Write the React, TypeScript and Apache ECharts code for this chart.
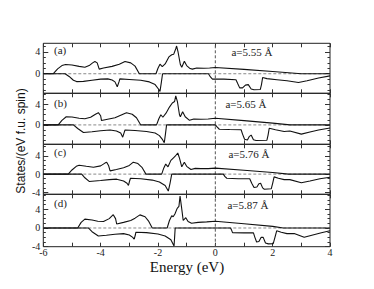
import React, { useEffect, useRef } from "react";
import * as echarts from "echarts";

// ---- data: [energy (eV), states/(eV f.u. spin)] ----
const upA: [number, number][] = [
  [-6, 0], [-5.65, 0], [-5.5, 0.9], [-5.35, 1.5], [-5.22, 1.7], [-5.0, 1.6], [-4.75, 1.35], [-4.55, 1.2],
  [-4.4, 1.5], [-4.28, 2.0], [-4.2, 2.25], [-4.12, 2.0], [-4.05, 0.85], [-3.9, 1.05], [-3.6, 1.35],
  [-3.35, 1.75], [-3.15, 2.25], [-2.95, 2.0], [-2.8, 1.4], [-2.65, 0], [-2.07, 0], [-2.0, 1.0],
  [-1.93, 1.75], [-1.85, 1.3], [-1.75, 1.8], [-1.62, 3.1], [-1.52, 3.5], [-1.45, 3.6], [-1.38, 4.6],
  [-1.35, 5.1], [-1.3, 4.0], [-1.22, 1.7], [-1.17, 1.2], [-1.08, 2.3], [-1.0, 1.5], [-0.88, 0.95],
  [-0.8, 0.85], [-0.65, 1.05], [-0.4, 1.0], [-0.2, 1.05], [0, 1.15], [1.0, 0.8], [2.0, 0.4], [3.0, 0], [4, 0],
];
const dnA: [number, number][] = [
  [-6, 0], [-5.24, 0], [-5.1, -0.5], [-4.95, -1.2], [-4.84, -1.45], [-4.6, -1.4], [-4.3, -1.2],
  [-4.0, -1.0], [-3.75, -0.95], [-3.6, -1.15], [-3.5, -1.5], [-3.42, -2.4], [-3.36, -1.5], [-3.33, -0.95],
  [-3.0, -1.05], [-2.6, -1.2], [-2.3, -1.5], [-2.1, -2.0], [-1.97, -2.9], [-1.93, -3.25], [-1.88, -1.5],
  [-1.84, 0], [-0.24, 0], [-0.17, -0.6], [-0.1, -1.0], [0.3, -1.0], [0.72, -1.1], [0.78, -1.8],
  [0.85, -2.6], [0.95, -2.6], [1.05, -2.1], [1.15, -2.0], [1.25, -2.8], [1.35, -2.95], [1.57, -2.9],
  [1.61, -2.0], [1.65, -0.7], [1.8, -0.9], [2.15, -1.1], [2.5, -1.3], [2.9, -1.6], [3.2, -1.3],
  [3.6, -0.8], [4, -0.4],
];
const upB: [number, number][] = [
  [-6, 0], [-5.48, 0], [-5.35, 0.9], [-5.2, 1.6], [-5.0, 1.55], [-4.75, 1.3], [-4.55, 1.2], [-4.35, 1.5],
  [-4.18, 2.1], [-4.08, 2.4], [-4.0, 1.8], [-3.97, 0.85], [-3.8, 1.05], [-3.5, 1.4], [-3.3, 1.9],
  [-3.1, 2.4], [-2.9, 2.1], [-2.75, 1.4], [-2.6, 0], [-2.05, 0], [-1.97, 1.2], [-1.9, 2.0], [-1.83, 1.5],
  [-1.72, 2.3], [-1.6, 3.5], [-1.5, 4.3], [-1.42, 4.6], [-1.38, 5.7], [-1.32, 4.5], [-1.25, 2.0],
  [-1.22, 1.6], [-1.14, 2.6], [-1.05, 1.6], [-0.9, 0.9], [-0.75, 1.15], [-0.5, 1.1], [-0.25, 1.15],
  [0, 1.3], [1.0, 0.85], [2.0, 0.35], [2.6, 0], [4, 0],
];
const dnB: [number, number][] = [
  [-6, 0], [-4.95, 0], [-4.8, -0.7], [-4.6, -1.5], [-4.3, -1.35], [-4.0, -1.15], [-3.67, -1.0],
  [-3.45, -1.2], [-3.3, -1.6], [-3.23, -2.4], [-3.18, -1.5], [-3.15, -1.0], [-2.8, -1.1], [-2.4, -1.3],
  [-2.1, -1.6], [-1.95, -2.1], [-1.84, -2.9], [-1.78, -3.5], [-1.74, -1.8], [-1.7, 0], [0, 0],
  [0.06, -0.4], [0.14, -0.85], [0.5, -0.9], [0.9, -0.95], [0.95, -1.8], [1.02, -2.8], [1.12, -2.95],
  [1.18, -2.3], [1.25, -2.0], [1.33, -2.9], [1.42, -3.05], [1.8, -3.0], [1.84, -2.0], [1.88, -0.65],
  [2.1, -0.95], [2.4, -1.3], [2.6, -1.2], [3.0, -1.8], [3.3, -1.4], [3.6, -1.0], [4, -0.6],
];
const upC: [number, number][] = [
  [-6, 0], [-5.13, 0], [-5.0, 0.9], [-4.85, 1.7], [-4.75, 1.95], [-4.5, 1.7], [-4.25, 1.5], [-4.0, 1.8],
  [-3.85, 2.4], [-3.79, 2.6], [-3.72, 1.8], [-3.67, 0.7], [-3.45, 1.0], [-3.2, 1.4], [-3.0, 1.9],
  [-2.86, 2.6], [-2.7, 2.3], [-2.55, 1.4], [-2.42, 0], [-1.87, 0], [-1.8, 1.3], [-1.73, 2.2],
  [-1.65, 1.6], [-1.55, 3.0], [-1.45, 3.6], [-1.4, 3.9], [-1.31, 4.6], [-1.25, 3.5], [-1.17, 1.6],
  [-1.08, 2.6], [-1.0, 1.7], [-0.85, 1.0], [-0.7, 1.25], [-0.5, 1.2], [-0.25, 1.2], [0, 1.3],
  [1.0, 0.85], [2.0, 0.35], [2.55, 0], [4, 0],
];
const dnC: [number, number][] = [
  [-6, 0], [-4.66, 0], [-4.55, -0.8], [-4.4, -1.6], [-4.0, -1.4], [-3.7, -1.2], [-3.44, -1.1],
  [-3.2, -1.5], [-3.08, -2.0], [-3.03, -2.45], [-2.99, -1.5], [-2.96, -0.9], [-2.6, -1.0], [-2.2, -1.3],
  [-1.95, -1.7], [-1.75, -2.5], [-1.64, -3.7], [-1.58, -2.0], [-1.52, 0], [0.28, 0], [0.33, -0.5],
  [0.4, -0.9], [0.8, -1.0], [1.2, -1.0], [1.27, -2.0], [1.35, -2.9], [1.45, -2.8], [1.52, -2.1],
  [1.58, -2.0], [1.65, -3.0], [1.71, -3.3], [1.95, -3.2], [2.0, -2.0], [2.05, -0.6], [2.2, -0.9],
  [2.4, -1.2], [2.6, -1.2], [3.0, -1.9], [3.3, -1.5], [3.65, -1.0], [4, -0.7],
];
const upD: [number, number][] = [
  [-6, 0], [-4.8, 0], [-4.68, 1.2], [-4.55, 1.9], [-4.3, 1.7], [-4.1, 1.45], [-3.9, 1.4], [-3.7, 2.0],
  [-3.56, 2.85], [-3.48, 2.0], [-3.44, 0.85], [-3.2, 1.2], [-2.95, 1.6], [-2.8, 2.1], [-2.63, 2.8],
  [-2.45, 2.4], [-2.32, 1.4], [-2.2, 0], [-1.68, 0], [-1.6, 1.6], [-1.52, 2.6], [-1.47, 2.4],
  [-1.41, 3.0], [-1.33, 4.2], [-1.27, 4.6], [-1.23, 6.8], [-1.18, 4.5], [-1.12, 1.6], [-1.03, 2.2],
  [-0.95, 1.4], [-0.83, 1.0], [-0.6, 1.2], [-0.3, 1.3], [0, 1.45], [1.0, 0.9], [2.0, 0.35], [2.37, 0],
  [4, 0],
];
const dnD: [number, number][] = [
  [-6, 0], [-4.43, 0], [-4.3, -0.8], [-4.08, -1.7], [-3.8, -1.55], [-3.5, -1.35], [-3.2, -1.2],
  [-3.0, -1.5], [-2.88, -2.0], [-2.83, -2.4], [-2.79, -1.5], [-2.77, -0.9], [-2.4, -1.0], [-2.0, -1.3],
  [-1.75, -1.7], [-1.55, -2.5], [-1.44, -3.85], [-1.42, -2.0], [-1.4, 0], [0.53, 0], [0.57, -0.5],
  [0.6, -1.0], [1.0, -1.05], [1.33, -1.05], [1.38, -2.0], [1.44, -3.0], [1.52, -2.9], [1.6, -2.0],
  [1.67, -2.0], [1.75, -3.2], [1.85, -3.4], [2.02, -3.35], [2.08, -2.0], [2.14, -0.6], [2.3, -0.9],
  [2.5, -1.2], [2.75, -1.2], [3.1, -2.0], [3.4, -1.5], [3.7, -1.0], [4, -0.6],
];

const tags = ["(a)", "(b)", "(c)", "(d)"];
const latticeLabels = ["a=5.55 Å", "a=5.65 Å", "a=5.76 Å", "a=5.87 Å"];
const xTickValues = [-6, -5, -4, -3, -2, -1, 0, 1, 2, 3, 4];
const xLabelValues = [-6, -4, -2, 0, 2, 4];
const yMajorValues = [-4, 0, 4];
const yMinorValues = [-4, -3, -2, -1, 0, 1, 2, 3, 4, 5, 6, 7];
const xTitle = "Energy (eV)";
const yTitle = "States/(eV f.u. spin)";

const ups = [upA, upB, upC, upD];
const dns = [dnA, dnB, dnC, dnD];

// layout
const X_MIN = -6;
const X_MAX = 4;
const yMins = [-3.6, -3.8, -4.4, -4.0];
const yMaxs = [5.6, 6.2, 6.5, 7.2];
const gridTops = [43.3, 93.3, 144.3, 194.3];
const gridHeights = [50, 51, 50, 52.4];
const GRID_LEFT = 43.3;
const GRID_WIDTH = 286.7;
const tagYs = [50, 103, 152, 203];
const latYs = [52, 104, 154, 205];
const latXs = [252, 246, 249, 248];

const SERIF = '"Liberation Serif", "Times New Roman", serif';
const SANS = '"Liberation Sans", Arial, sans-serif';

export default function App() {
  const ref = useRef<HTMLDivElement>(null);
  useEffect(() => {
    if (!ref.current) return;
    const chart = echarts.init(ref.current, undefined, { renderer: "svg" });
    const grid: any[] = [];
    const xAxis: any[] = [];
    const yAxis: any[] = [];
    const series: any[] = [];
    const graphic: any[] = [];
    const tickStyle = { color: "#333", width: 1 };

    for (let i = 0; i < 4; i++) {
      const yMin = yMins[i];
      const yMax = yMaxs[i];
      grid.push({
        left: GRID_LEFT,
        top: gridTops[i],
        width: GRID_WIDTH,
        height: gridHeights[i],
        show: true,
        borderColor: "#222",
        borderWidth: 1,
        backgroundColor: "transparent",
        containLabel: false,
      });
      const xBase = {
        type: "value",
        gridIndex: i,
        min: X_MIN,
        max: X_MAX,
        axisLine: { show: false, onZero: false },
        splitLine: { show: false },
      };
      xAxis.push({
        ...xBase,
        position: "bottom",
        axisTick: { show: true, inside: true, length: 4, customValues: xTickValues, lineStyle: tickStyle },
        axisLabel: {
          show: i === 3,
          customValues: xLabelValues,
          fontFamily: SERIF,
          fontSize: 10,
          color: "#222",
          margin: 1,
        },
      });
      xAxis.push({
        ...xBase,
        position: "top",
        axisTick: { show: true, inside: true, length: 4, customValues: xTickValues, lineStyle: tickStyle },
        axisLabel: { show: false },
      });
      const majors = yMajorValues.filter((v) => v >= yMin && v <= yMax);
      const minors = yMinorValues.filter((v) => v >= yMin && v <= yMax);
      const yBase = {
        type: "value",
        gridIndex: i,
        min: yMin,
        max: yMax,
        axisLine: { show: false, onZero: false },
        splitLine: { show: false },
      };
      for (const pos of ["left", "right"]) {
        yAxis.push({
          ...yBase,
          position: pos,
          axisTick: { show: true, inside: true, length: 5, customValues: majors, lineStyle: tickStyle },
          axisLabel: {
            show: pos === "left",
            customValues: majors,
            fontFamily: SERIF,
            fontSize: 10,
            color: "#222",
            margin: 3,
          },
        });
        yAxis.push({
          ...yBase,
          position: pos,
          axisTick: { show: true, inside: true, length: 2.5, customValues: minors, lineStyle: tickStyle },
          axisLabel: { show: false },
        });
      }
      const xi = i * 2;
      const yi = i * 4;
      series.push({
        type: "line",
        xAxisIndex: xi,
        yAxisIndex: yi,
        data: [[X_MIN, 0], [X_MAX, 0]],
        symbol: "none",
        silent: true,
        z: 1,
        lineStyle: { color: "#8a8a8a", width: 1, type: [3, 2] },
      });
      series.push({
        type: "line",
        xAxisIndex: xi,
        yAxisIndex: yi,
        data: [[0, yMin], [0, yMax]],
        symbol: "none",
        silent: true,
        z: 1,
        lineStyle: { color: "#555", width: 1, type: [3, 2] },
      });
      series.push({
        type: "line",
        xAxisIndex: xi,
        yAxisIndex: yi,
        data: ups[i],
        symbol: "none",
        z: 3,
        lineStyle: { color: "#111", width: 1.1 },
      });
      series.push({
        type: "line",
        xAxisIndex: xi,
        yAxisIndex: yi,
        data: dns[i],
        symbol: "none",
        z: 3,
        lineStyle: { color: "#111", width: 1.1 },
      });
      graphic.push({
        type: "text",
        x: 54,
        y: tagYs[i],
        style: {
          text: tags[i],
          font: `11px ${SERIF}`,
          fill: "#222",
          align: "left",
          textAlign: "left",
          verticalAlign: "middle",
          textVerticalAlign: "middle",
        },
      });
      graphic.push({
        type: "text",
        x: latXs[i],
        y: latYs[i],
        style: {
          text: latticeLabels[i],
          font: `11px ${SERIF}`,
          fill: "#222",
          align: "center",
          textAlign: "center",
          verticalAlign: "middle",
          textVerticalAlign: "middle",
        },
      });
    }
    graphic.push({
      type: "text",
      x: 187,
      y: 267,
      style: {
        text: xTitle,
        font: `15px ${SERIF}`,
        fill: "#111",
        align: "center",
        textAlign: "center",
        verticalAlign: "middle",
        textVerticalAlign: "middle",
      },
    });
    graphic.push({
      type: "text",
      x: 20.5,
      y: 141,
      rotation: Math.PI / 2,
      style: {
        text: yTitle,
        font: `12px ${SANS}`,
        fill: "#111",
        align: "center",
        textAlign: "center",
        verticalAlign: "middle",
        textVerticalAlign: "middle",
      },
    });

    chart.setOption({
      animation: false,
      backgroundColor: "#fff",
      grid,
      xAxis,
      yAxis,
      series,
      graphic,
    });
    return () => chart.dispose();
  }, []);
  return (
    <div
      ref={ref}
      style={{ position: "fixed", left: 0, top: 0, width: 374, height: 289 }}
    />
  );
}
